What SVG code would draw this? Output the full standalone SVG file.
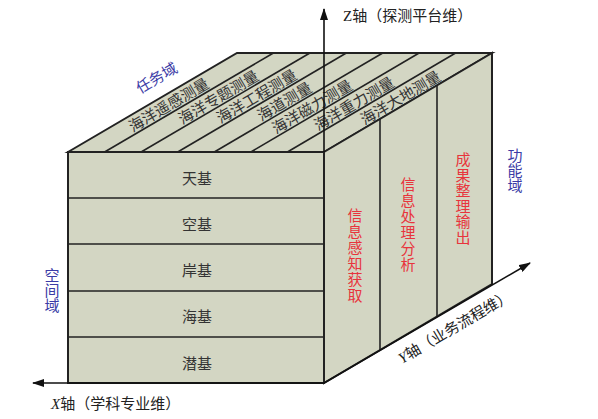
<svg xmlns="http://www.w3.org/2000/svg" width="598" height="419" viewBox="0 0 598 419">
<style>
.face{fill:#d3d6c3;stroke:#222;stroke-width:2;stroke-linejoin:miter}
.ln{stroke:#222;stroke-width:1.6;fill:none}
.ax{stroke:#111;stroke-width:1.6;fill:none}
.t{font-family:"Noto Sans CJK SC","Liberation Serif",sans-serif;font-size:15px;fill:#333;text-anchor:middle;dominant-baseline:central}
.v{font-family:"Noto Sans CJK SC","Liberation Serif",sans-serif;font-size:15px;writing-mode:vertical-rl;text-anchor:start}
.red{fill:#e8343c}
.blue{fill:#3b3ba6}
.lab{font-family:"Liberation Serif","Noto Sans CJK SC",serif;font-size:15px;fill:#222}
</style>
<defs>
<marker id="arr" markerWidth="12" markerHeight="8" refX="11" refY="4" orient="auto" markerUnits="userSpaceOnUse">
<path d="M0,0 L12,4 L0,8 Z" fill="#111"/>
</marker>
</defs>
<g id="box">
<polygon class="face" points="68,152 237,53 492,53 324,152"/>
<polygon class="face" points="324,152 492,53 492,284 324,383"/>
<rect class="face" x="68" y="152" width="256" height="231"/>
</g>
<g id="task-strips">
<line class="ln" x1="104.6" y1="152" x2="273.4" y2="53"/>
<line class="ln" x1="141.1" y1="152" x2="309.9" y2="53"/>
<line class="ln" x1="177.7" y1="152" x2="346.3" y2="53"/>
<line class="ln" x1="214.3" y1="152" x2="382.7" y2="53"/>
<line class="ln" x1="250.9" y1="152" x2="419.1" y2="53"/>
<line class="ln" x1="287.4" y1="152" x2="455.6" y2="53"/>
<text class="t" transform="translate(168.2,104) rotate(-30.4)">海洋遥感测量</text>
<text class="t" transform="translate(217.8,96.4) rotate(-30.4)">海洋专题测量</text>
<text class="t" transform="translate(256.1,95.4) rotate(-30.4)">海洋工程测量</text>
<text class="t" transform="translate(283.9,100.6) rotate(-30.4)">海道测量</text>
<text class="t" transform="translate(311.6,105.8) rotate(-30.4)">海洋磁力测量</text>
<text class="t" transform="translate(353.4,102.7) rotate(-30.4)">海洋重力测量</text>
<text class="t" transform="translate(399.9,96.9) rotate(-30.4)">海洋大地测量</text>
</g>
<g id="space-rows">
<line class="ln" x1="68" y1="198" x2="324" y2="198"/>
<line class="ln" x1="68" y1="244" x2="324" y2="244"/>
<line class="ln" x1="68" y1="291" x2="324" y2="291"/>
<line class="ln" x1="68" y1="337" x2="324" y2="337"/>
<text class="t" x="197" y="177">天基</text>
<text class="t" x="197" y="223">空基</text>
<text class="t" x="197" y="269">岸基</text>
<text class="t" x="197" y="315">海基</text>
<text class="t" x="197" y="362">潜基</text>
</g>
<g id="function-cols">
<line class="ln" x1="380" y1="119" x2="380" y2="350"/>
<line class="ln" x1="437" y1="85.4" x2="437" y2="316.4"/>
<text class="v red" x="355" y="208" letter-spacing="1">信息感知获取</text>
<text class="v red" x="408" y="177" letter-spacing="1">信息处理分析</text>
<text class="v red" x="463" y="152" letter-spacing="0.5">成果整理输出</text>
</g>
<g id="connectors">
<line class="ax" x1="324" y1="152" x2="324" y2="9" marker-end="url(#arr)"/>
<line class="ax" x1="324" y1="383" x2="33" y2="383" marker-end="url(#arr)"/>
<line class="ax" x1="324" y1="383" x2="530" y2="263" marker-end="url(#arr)"/>
</g>
<g id="axis-labels">
<text class="lab" x="343" y="21"><tspan>Z</tspan>轴（探测平台维）</text>
<text class="lab" x="51" y="409"><tspan font-style="italic">X</tspan>轴（学科专业维）</text>
<text class="lab" transform="translate(402,364) rotate(-30.4)"><tspan font-style="italic">Y</tspan>轴（业务流程维）</text>
</g>
<g id="domain-labels">
<text class="t blue" transform="translate(156,77) rotate(-30.4)">任务域</text>
<text class="v blue" x="515" y="148">功能域</text>
<text class="v blue" x="52" y="268">空间域</text>
</g>
</svg>
